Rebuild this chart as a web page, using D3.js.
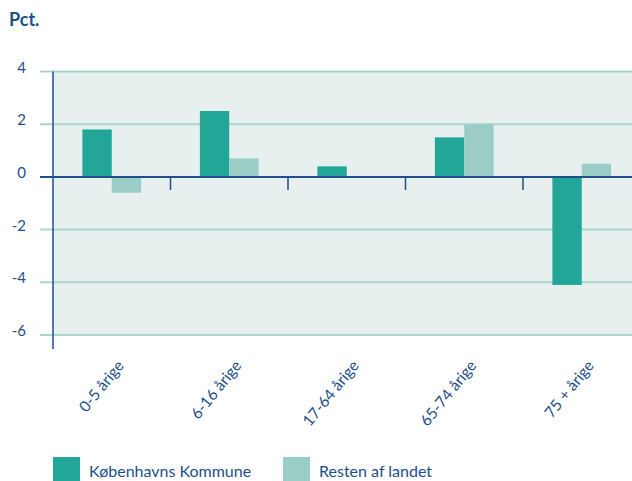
<!DOCTYPE html>
<html>
<head>
<meta charset="utf-8">
<script src="https://cdn.jsdelivr.net/npm/d3@7"></script>
<style>
  body { margin: 0; background: #fff; }
  text { font-family: Lato, "Open Sans", sans-serif; fill: #1d4f8b; }
</style>
</head>
<body>
<div id="chart"></div>
<script>
var categories = ['0-5 årige', '6-16 årige', '17-64 årige', '65-74 årige', '75 + årige'];
var series = ['Københavns Kommune', 'Resten af landet'];
var kbhValues = [1.8, 2.5, 0.4, 1.5, -4.1];
var restValues = [-0.6, 0.7, 0, 2.0, 0.5];
var yTicks = [4, 2, 0, -2, -4, -6];
var colors = ['#21a698', '#99cdc6'];

var width = 632, height = 481;
var margin = {left: 53, top: 71.5, bottom: 335};

var svg = d3.select('#chart').append('svg')
    .attr('width', width)
    .attr('height', height);

var x = d3.scaleBand().domain(categories).range([margin.left, margin.left + 5 * 117.5]);
var xInner = d3.scaleBand().domain(series).range([x.bandwidth() / 4, x.bandwidth() * 3 / 4]);
var y = d3.scaleLinear().domain([-6, 4]).range([margin.bottom, margin.top]);

// background
svg.append('rect')
    .attr('x', margin.left).attr('y', y(4))
    .attr('width', width - margin.left).attr('height', y(-6) - y(4))
    .style('fill', '#e7f0ee');

// gridlines
yTicks.filter(function (d) { return d !== 0; }).forEach(function (t) {
    svg.append('line')
        .attr('x1', 40).attr('x2', width)
        .attr('y1', y(t)).attr('y2', y(t))
        .attr('stroke', '#a9d7ce').attr('stroke-width', 2);
});

// tick labels
yTicks.forEach(function (t) {
    svg.append('text')
        .text(t)
        .attr('x', 26).attr('y', y(t) + 1)
        .attr('text-anchor', 'end')
        .attr('font-size', 15);
});

// bars
var rows = categories.map(function (c, i) {
    return [{cat: c, s: series[0], v: kbhValues[i]}, {cat: c, s: series[1], v: restValues[i]}];
});
rows.forEach(function (pair) {
    pair.forEach(function (d, j) {
        if (d.v === 0) return;
        svg.append('rect')
            .attr('x', x(d.cat) + xInner(d.s))
            .attr('width', xInner.bandwidth())
            .attr('y', y(Math.max(0, d.v)))
            .attr('height', Math.abs(y(d.v) - y(0)))
            .style('fill', colors[j]);
    });
});

// zero line and category ticks
svg.append('line')
    .attr('x1', 40).attr('x2', width)
    .attr('y1', y(0)).attr('y2', y(0))
    .attr('stroke', '#1d4f8b').attr('stroke-width', 2);
categories.slice(1).forEach(function (c) {
    svg.append('line')
        .attr('x1', x(c)).attr('x2', x(c))
        .attr('y1', y(0)).attr('y2', y(0) + 13)
        .attr('stroke', '#1d4f8b').attr('stroke-width', 1.5);
});

// y axis
svg.append('line')
    .attr('x1', margin.left).attr('x2', margin.left)
    .attr('y1', y(4)).attr('y2', 349)
    .attr('stroke', '#1d4f8b').attr('stroke-width', 1.5);

// category labels
categories.forEach(function (c) {
    var cx = x(c) + x.bandwidth() / 2;
    svg.append('text')
        .text(c)
        .attr('transform', 'translate(' + (cx + 13) + ',' + 366 + ') rotate(-51)')
        .attr('text-anchor', 'end')
        .attr('font-size', 15.5);
});

// title
svg.append('text')
    .text('Pct.')
    .attr('x', 9).attr('y', 26)
    .attr('font-size', 18)
    .attr('font-weight', 'bold');

// legend
var legendX = [53, 283];
series.forEach(function (s, i) {
    svg.append('rect')
        .attr('x', legendX[i]).attr('y', 457)
        .attr('width', 27).attr('height', 24)
        .style('fill', colors[i]);
    svg.append('text')
        .text(s)
        .attr('x', legendX[i] + 36).attr('y', 477)
        .attr('font-size', 16);
});
</script>
</body>
</html>
